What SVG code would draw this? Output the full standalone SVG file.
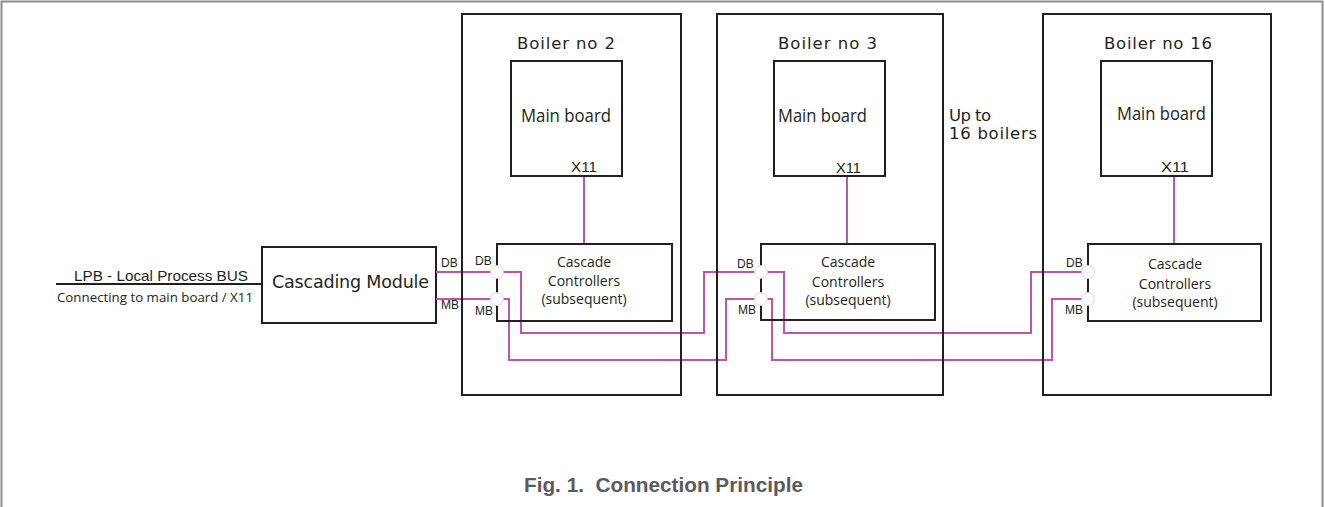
<svg xmlns="http://www.w3.org/2000/svg" width="1325" height="507" viewBox="0 0 1325 507">
  <style>
    .box { fill: none; stroke: #231f20; stroke-width: 2; }
    .frame { fill: none; stroke: #8c8c8c; stroke-width: 2; }
    .wire { fill: none; stroke: #bd56a6; stroke-width: 2; }
    .port { fill: #ffffff; stroke: #d2d2d2; stroke-width: 0.8; }
    .iso { font-family: "DejaVu Sans", "Liberation Sans", sans-serif; fill: #231f20; }
    .hum { font-family: "Open Sans", "Noto Sans", sans-serif; fill: #231f20; }
    .sans { font-family: "Liberation Sans", Arial, sans-serif; fill: #231f20; }
    .pin { font-family: "Liberation Sans", Arial, sans-serif; font-size: 12px; fill: #231f20; }
    .cc { font-family: "Open Sans", "Noto Sans", sans-serif; font-size: 14px; fill: #231f20; text-anchor: middle; }
  </style>

  <!-- page frame -->
  <rect class="frame" x="1.5" y="1.5" width="1321" height="530"/>

  <!-- bus feed -->
  <g id="lpb-bus">
    <line x1="56" y1="284" x2="262" y2="284" stroke="#231f20" stroke-width="1.8"/>
    <text class="sans" x="74" y="281" font-size="14.5" textLength="174" lengthAdjust="spacingAndGlyphs">LPB - Local Process BUS</text>
    <text class="hum" x="57" y="301.5" font-size="13" textLength="196" lengthAdjust="spacingAndGlyphs">Connecting to main board / X11</text>
  </g>

  <!-- cascading module -->
  <g id="cascading-module">
    <rect class="box" x="262" y="247" width="174" height="76"/>
    <text class="iso" x="272" y="288" font-size="17.5" textLength="157" lengthAdjust="spacing">Cascading Module</text>
    <text class="pin" x="441" y="267">DB</text>
    <text class="pin" x="441" y="309">MB</text>
  </g>

  <!-- connectors -->
  <g id="connectors">
    <!-- X11 to cascade controllers -->
    <line class="wire" x1="584" y1="176" x2="584" y2="244"/>
    <line class="wire" x1="847" y1="176" x2="847" y2="244"/>
    <line class="wire" x1="1174" y1="176" x2="1174" y2="244"/>
    <!-- DB bus -->
    <polyline class="wire" points="436,272 497,272"/>
    <polyline class="wire" points="497,272 521,272 521,333 704,333 704,272 761,272"/>
    <polyline class="wire" points="761,272 784,272 784,333 1031,333 1031,272 1088,272"/>
    <!-- MB bus -->
    <polyline class="wire" points="436,299 497,299"/>
    <polyline class="wire" points="497,299 509,299 509,360 726,360 726,299 761,299"/>
    <polyline class="wire" points="761,299 772,299 772,360 1052,360 1052,299 1088,299"/>
  </g>

  <!-- boiler no 2 -->
  <g id="boiler-2">
    <rect class="box" x="462" y="14" width="219" height="381"/>
    <text class="iso" x="517" y="49" font-size="16.5" textLength="98" lengthAdjust="spacing">Boiler no 2</text>
    <rect class="box" x="511" y="61" width="111" height="115"/>
    <text class="hum" x="521" y="121.5" font-size="17.5" textLength="90" lengthAdjust="spacingAndGlyphs">Main board</text>
    <text class="sans" x="571" y="172" font-size="14.5" textLength="26" lengthAdjust="spacingAndGlyphs">X11</text>
    <rect class="box" x="497" y="244" width="175" height="77"/>
    <circle class="port" cx="497" cy="272" r="6.5"/>
    <circle class="port" cx="497" cy="299" r="6.5"/>
    <text class="pin" x="475" y="265">DB</text>
    <text class="pin" x="475" y="315">MB</text>
    <text class="cc" x="584" y="267">Cascade</text>
    <text class="cc" x="584" y="286">Controllers</text>
    <text class="cc" x="584" y="304">(subsequent)</text>
  </g>

  <!-- boiler no 3 -->
  <g id="boiler-3">
    <rect class="box" x="717" y="14" width="226" height="381"/>
    <text class="iso" x="778" y="49" font-size="16.5" textLength="99" lengthAdjust="spacing">Boiler no 3</text>
    <rect class="box" x="774" y="61" width="111" height="115"/>
    <text class="hum" x="778" y="121.5" font-size="17.5" textLength="89" lengthAdjust="spacingAndGlyphs">Main board</text>
    <text class="sans" x="836" y="172.5" font-size="14.5" textLength="25" lengthAdjust="spacingAndGlyphs">X11</text>
    <rect class="box" x="761" y="244" width="174" height="76"/>
    <circle class="port" cx="761" cy="272" r="6.5"/>
    <circle class="port" cx="761" cy="299" r="6.5"/>
    <text class="pin" x="737" y="268">DB</text>
    <text class="pin" x="738" y="314">MB</text>
    <text class="cc" x="848" y="267">Cascade</text>
    <text class="cc" x="848" y="287">Controllers</text>
    <text class="cc" x="848" y="305">(subsequent)</text>
  </g>

  <!-- note between boilers -->
  <g id="note-up-to-16">
    <text class="iso" x="949" y="121" font-size="16.5" textLength="42" lengthAdjust="spacing">Up to</text>
    <text class="iso" x="949" y="139" font-size="16.5" textLength="88" lengthAdjust="spacing">16 boilers</text>
  </g>

  <!-- boiler no 16 -->
  <g id="boiler-16">
    <rect class="box" x="1043" y="14" width="228" height="381"/>
    <text class="iso" x="1104" y="49" font-size="16.5" textLength="108" lengthAdjust="spacing">Boiler no 16</text>
    <rect class="box" x="1101" y="61" width="111" height="115"/>
    <text class="hum" x="1117" y="120" font-size="17.5" textLength="89" lengthAdjust="spacingAndGlyphs">Main board</text>
    <text class="sans" x="1161" y="172" font-size="14.5" textLength="28" lengthAdjust="spacingAndGlyphs">X11</text>
    <rect class="box" x="1088" y="244" width="173" height="77"/>
    <circle class="port" cx="1088" cy="272" r="6.5"/>
    <circle class="port" cx="1088" cy="299" r="6.5"/>
    <text class="pin" x="1066" y="267">DB</text>
    <text class="pin" x="1065" y="314">MB</text>
    <text class="cc" x="1175" y="269">Cascade</text>
    <text class="cc" x="1175" y="289">Controllers</text>
    <text class="cc" x="1175" y="306.5">(subsequent)</text>
  </g>

  <!-- caption -->
  <g id="caption">
    <text x="524" y="491.5" font-family="Liberation Sans, Arial, sans-serif" font-weight="bold" font-size="20" fill="#5a5b5d" textLength="279" lengthAdjust="spacingAndGlyphs" xml:space="preserve">Fig. 1.  Connection Principle</text>
  </g>
</svg>
